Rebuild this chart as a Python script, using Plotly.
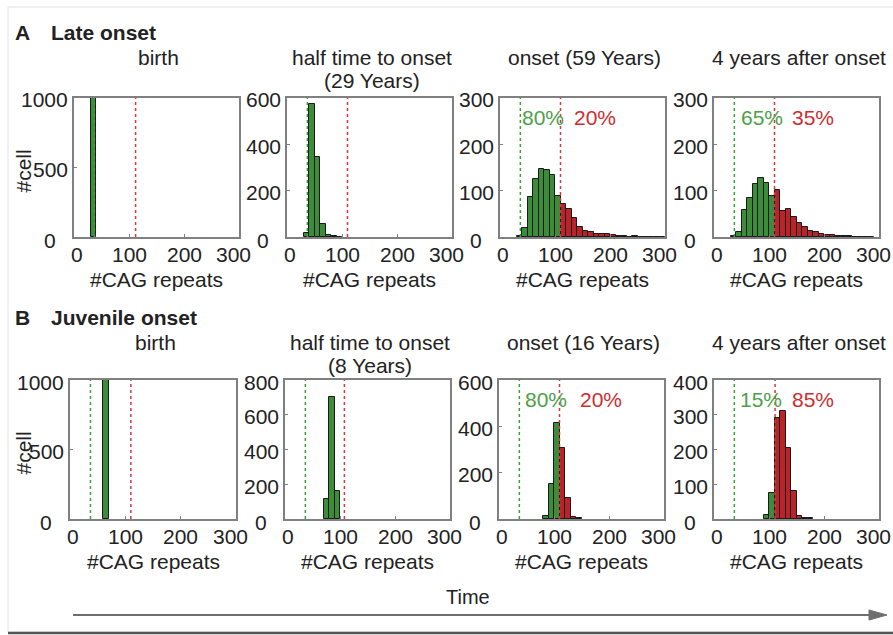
import plotly.graph_objects as go

W, H = 893, 635

# ---------------- data ----------------
bin_centers = [5, 15, 25, 35, 45, 55, 65, 75, 85, 95, 105, 115, 125, 135, 145,
               155, 165, 175, 185, 195, 205, 215, 225, 235, 245, 255, 265, 275, 285, 295]

# counts per 10-repeat bin (0-300)
late_birth  = [0, 0, 0, 1000, 0, 0, 0, 0, 0, 0, 0, 0, 0, 0, 0, 0, 0, 0, 0, 0, 0, 0, 0, 0, 0, 0, 0, 0, 0, 0]
late_half   = [0, 0, 0, 17, 572, 345, 55, 8, 3, 1, 0, 0, 0, 0, 0, 0, 0, 0, 0, 0, 0, 0, 0, 0, 0, 0, 0, 0, 0, 0]
late_onset  = [0, 0, 0, 2, 20, 86, 125, 147, 144, 133, 88, 72, 60, 40, 22, 14, 10, 7, 6, 7, 5, 3, 2, 1, 2, 1, 1, 1, 1, 1]
late_after  = [0, 0, 0, 3, 11, 58, 84, 115, 127, 116, 88, 102, 57, 61, 43, 30, 21, 13, 10, 7, 5, 4, 3, 3, 2, 1, 1, 1, 1, 0]
juv_birth   = [0, 0, 0, 0, 0, 0, 1000, 0, 0, 0, 0, 0, 0, 0, 0, 0, 0, 0, 0, 0, 0, 0, 0, 0, 0, 0, 0, 0, 0, 0]
juv_half    = [0, 0, 0, 0, 0, 0, 0, 115, 705, 160, 0, 0, 0, 0, 0, 0, 0, 0, 0, 0, 0, 0, 0, 0, 0, 0, 0, 0, 0, 0]
juv_onset   = [0, 0, 0, 0, 0, 0, 0, 0, 14, 151, 416, 308, 89, 7, 3, 0, 0, 0, 0, 0, 0, 0, 0, 0, 0, 0, 0, 0, 0, 0]
juv_after   = [0, 0, 0, 0, 0, 0, 0, 0, 0, 11, 74, 290, 312, 204, 81, 10, 4, 2, 0, 0, 0, 0, 0, 0, 0, 0, 0, 0, 0, 0]

panel_counts = [late_birth, late_half, late_onset, late_after,
                juv_birth, juv_half, juv_onset, juv_after]
panel_titles = [["birth"], ["half time to onset", "(29 Years)"], ["onset (59 Years)"], ["4 years after onset"],
                ["birth"], ["half time to onset", "(8 Years)"], ["onset (16 Years)"], ["4 years after onset"]]
green_threshold = [37, 37, 37, 37, 37, 37, 37, 37]
red_threshold = [112, 110, 110, 110, 110, 108, 110, 111]
y_max = [1000, 600, 300, 300, 1000, 800, 600, 400]
y_ticks = [[0, 500, 1000], [0, 200, 400, 600], [0, 100, 200, 300], [0, 100, 200, 300],
           [0, 500, 1000], [0, 200, 400, 600, 800], [0, 200, 400, 600], [0, 100, 200, 300, 400]]
pct_below = [None, None, "80%", "65%", None, None, "80%", "15%"]
pct_above = [None, None, "20%", "35%", None, None, "20%", "85%"]
pct_below_x = [None, None, 36, 45, None, None, 44, 44]
pct_above_x = [None, None, 131, 138, None, None, 144, 138]
x_ticks = [0, 100, 200, 300]
x_tick_labels = ["0", "100", "200", "300"]

# ---------------- layout geometry / style ----------------
col_px = [[(74, 239), (287, 452), (500, 665), (714, 879)],
          [(70, 236), (285, 450), (499, 664), (714, 879)]]
row_px = [(98, 237), (380, 519)]
title_px = [58, 343]
x_label_shift = [3, 0, 0, -6]   # pixel nudges of the x tick labels (as in the figure)

GREEN = "#3d8c3a"
RED = "#b8242a"
GREEN_TXT = "#4ea04a"
RED_TXT = "#cc2e30"
FONT = "Liberation Sans, Arial, sans-serif"
FS = 21

def fx(px):
    return px / W

def fy(py):
    return 1 - py / H

fig = go.Figure()
layout = dict(width=W, height=H, margin=dict(l=0, r=0, t=0, b=0, pad=0), autosize=False,
              paper_bgcolor="white", plot_bgcolor="white", showlegend=False,
              font=dict(family=FONT, size=FS, color="#222"), bargap=0)
annotations = []
shapes = []

for i in range(8):
    r, c = divmod(i, 4)
    n = i + 1
    xa = "x" if n == 1 else f"x{n}"
    ya = "y" if n == 1 else f"y{n}"
    counts = panel_counts[i]
    colors = [GREEN if b < red_threshold[i] else RED for b in bin_centers]
    xs = [b for b, v in zip(bin_centers, counts) if v > 0]
    ys = [v for v in counts if v > 0]
    cs = [col for col, v in zip(colors, counts) if v > 0]
    fig.add_trace(go.Bar(x=xs, y=ys, width=10, xaxis=xa, yaxis=ya,
                         marker=dict(color=cs, line=dict(color="#1a1a1a", width=1)),
                         hoverinfo="x+y"))
    # threshold lines
    for thr, col in [(green_threshold[i], "#3aa03a"), (red_threshold[i], "#d33a3a")]:
        fig.add_trace(go.Scatter(x=[thr, thr], y=[0, y_max[i]], xaxis=xa, yaxis=ya,
                                 mode="lines", line=dict(color=col, width=1.5, dash="dot"),
                                 hoverinfo="skip"))
    x0, x1 = col_px[r][c]
    y0, y1 = row_px[r]
    axis_common = dict(showline=True, linecolor="#808080", linewidth=1.5, mirror=True,
                       ticks="inside", ticklen=3, tickcolor="#808080", showgrid=False,
                       zeroline=False, automargin=False, showticklabels=False)
    layout["xaxis" if n == 1 else f"xaxis{n}"] = dict(
        domain=[fx(x0), fx(x1)], range=[0, 300], anchor=ya, tickvals=x_ticks, **axis_common)
    layout["yaxis" if n == 1 else f"yaxis{n}"] = dict(
        domain=[fy(y1), fy(y0)], range=[0, y_max[i]], anchor=xa, tickvals=y_ticks[i], **axis_common)
    # x tick labels
    for tv, tl, sh in zip(x_ticks, x_tick_labels, x_label_shift):
        annotations.append(dict(text=tl, xref=xa, yref=f"{ya} domain", x=tv, y=0,
                                xshift=sh, yshift=-17, xanchor="center", yanchor="middle",
                                showarrow=False, font=dict(size=FS)))
    # y tick labels ("0" sits lower-left, as in the figure)
    for tv in y_ticks[i]:
        annotations.append(dict(text=str(tv), xref=f"{xa} domain", yref=ya, x=0, y=tv,
                                xshift=-16 if tv == 0 else -4, yshift=-3 if tv == 0 else -2,
                                xanchor="right", yanchor="middle",
                                showarrow=False, font=dict(size=FS)))
    # panel title (one annotation per line)
    for k, line in enumerate(panel_titles[i]):
        annotations.append(dict(text=line, xref="paper", yref="paper",
                                x=fx((x0 + x1) / 2 + 2), y=fy(title_px[r] + 22 * k),
                                xanchor="center", yanchor="middle",
                                showarrow=False, font=dict(size=FS)))
    # x axis title
    annotations.append(dict(text="#CAG repeats", xref="paper", yref="paper",
                            x=fx((x0 + x1) / 2), y=fy(y1 + 42), xanchor="center", yanchor="middle",
                            showarrow=False, font=dict(size=FS)))
    if pct_below[i]:
        annotations.append(dict(text=pct_below[i], xref=xa, yref=f"{ya} domain",
                                x=pct_below_x[i], y=0.86, xanchor="left", yanchor="middle",
                                showarrow=False, font=dict(size=FS, color=GREEN_TXT)))
        annotations.append(dict(text=pct_above[i], xref=xa, yref=f"{ya} domain",
                                x=pct_above_x[i], y=0.86, xanchor="left", yanchor="middle",
                                showarrow=False, font=dict(size=FS, color=RED_TXT)))
    if c == 0:
        annotations.append(dict(text="#cell", xref="paper", yref="paper",
                                x=fx(23), y=fy((y0 + y1) / 2 + 4), xanchor="center", yanchor="middle",
                                textangle=-90, showarrow=False, font=dict(size=FS)))

# section headings
annotations.append(dict(text="<b>A</b>", xref="paper", yref="paper", x=fx(13), y=fy(32),
                        xanchor="left", yanchor="middle", showarrow=False, font=dict(size=FS)))
annotations.append(dict(text="<b>Late onset</b>", xref="paper", yref="paper", x=fx(49), y=fy(32),
                        xanchor="left", yanchor="middle", showarrow=False, font=dict(size=FS)))
annotations.append(dict(text="<b>B</b>", xref="paper", yref="paper", x=fx(13), y=fy(317),
                        xanchor="left", yanchor="middle", showarrow=False, font=dict(size=FS)))
annotations.append(dict(text="<b>Juvenile onset</b>", xref="paper", yref="paper", x=fx(49), y=fy(317),
                        xanchor="left", yanchor="middle", showarrow=False, font=dict(size=FS)))
annotations.append(dict(text="Time", xref="paper", yref="paper", x=fx(468), y=fy(597),
                        xanchor="center", yanchor="middle", showarrow=False, font=dict(size=FS - 1)))

# time arrow
shapes.append(dict(type="line", xref="paper", yref="paper", x0=fx(73), x1=fx(872),
                   y0=fy(615), y1=fy(615), line=dict(color="#6e6e6e", width=2)))
shapes.append(dict(type="path", xref="paper", yref="paper",
                   path=f"M {fx(869)} {fy(610)} L {fx(887)} {fy(615)} L {fx(869)} {fy(620)} Z",
                   fillcolor="#6e6e6e", line=dict(color="#6e6e6e", width=1)))
# frame
shapes.append(dict(type="rect", xref="paper", yref="paper", x0=fx(8), x1=fx(900),
                   y0=fy(632), y1=fy(7), line=dict(color="#e2e2e2", width=1)))
shapes.append(dict(type="line", xref="paper", yref="paper", x0=fx(8), x1=fx(893),
                   y0=fy(633), y1=fy(633), line=dict(color="#555555", width=2.5)))

layout["annotations"] = annotations
layout["shapes"] = shapes
fig.update_layout(**layout)
fig.write_html("out.html")
